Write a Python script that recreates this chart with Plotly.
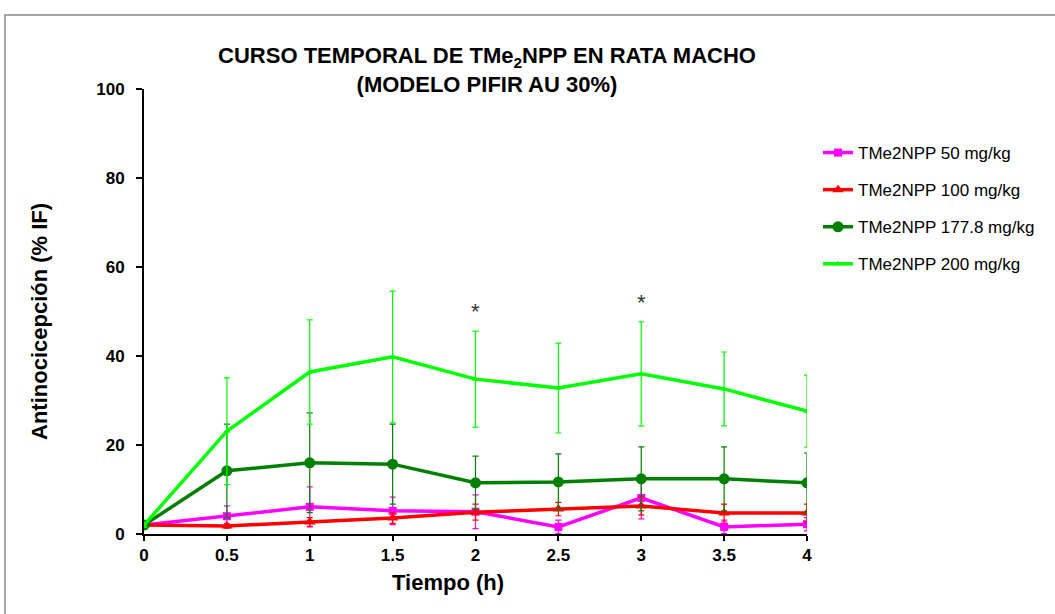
import plotly.graph_objects as go

tiempo = [0, 0.5, 1, 1.5, 2, 2.5, 3, 3.5, 4]
x_labels = ["0", "0.5", "1", "1.5", "2", "2.5", "3", "3.5", "4"]
y_ticks = [0, 20, 40, 60, 80, 100]

names = ["TMe2NPP 50 mg/kg", "TMe2NPP 100 mg/kg", "TMe2NPP 177.8 mg/kg", "TMe2NPP 200 mg/kg"]

y50 = [2.0, 4.0, 6.1, 5.2, 5.0, 1.6, 8.1, 1.6, 2.2]
e50 = [0.5, 2.3, 4.5, 3.1, 3.8, 1.5, 4.7, 1.5, 1.5]

y100 = [2.0, 1.8, 2.7, 3.6, 4.9, 5.6, 6.3, 4.7, 4.7]
e100 = [0.5, 0.5, 1.0, 1.2, 1.8, 1.5, 2.0, 2.0, 2.0]

y177 = [2.0, 14.2, 16.0, 15.7, 11.5, 11.7, 12.4, 12.4, 11.5]
e177 = [0.5, 10.5, 11.2, 9.0, 6.0, 6.3, 7.2, 7.2, 6.7]

y200 = [2.0, 23.1, 36.4, 39.8, 34.8, 32.8, 36.0, 32.6, 27.6]
e200 = [0.5, 12.0, 11.7, 14.8, 10.8, 10.1, 11.7, 8.3, 8.1]

sig_x = [2, 3]
sig_y = [50, 52]

series = [
    (names[0], y50, e50, "#ff00ff", "square", 8),
    (names[1], y100, e100, "#ff0000", "triangle-up", 10),
    (names[2], y177, e177, "#008000", "circle", 11),
    (names[3], y200, e200, "#00ff00", "triangle-up", 6),
]

fig = go.Figure()
for i, (name, y, e, col, sym, sz) in enumerate(series):
    fig.add_trace(go.Scatter(
        x=tiempo, y=y, name=name, mode="lines+markers", legendgroup="g%d" % i,
        line=dict(color=col, width=3.5),
        marker=dict(symbol=sym, size=sz, color=col),
        error_y=dict(type="data", array=e, visible=True, color=col, thickness=1.2, width=3),
    ))

for sx, sy in zip(sig_x, sig_y):
    fig.add_annotation(x=sx, y=sy, text="*", showarrow=False,
                       font=dict(family="Arial, Liberation Sans", size=22, color="#333"))

# axis titles as annotations for exact placement
fig.add_annotation(xref="paper", yref="paper", x=(448 - 144) / 663, y=(534 - 582) / 445,
                   text="<b>Tiempo (h)</b>", showarrow=False, xanchor="center", yanchor="middle",
                   font=dict(size=22, color="black"))
fig.add_annotation(xref="paper", yref="paper", x=(39 - 144) / 663, y=(534 - 322) / 445,
                   text="<b>Antinocicepción (% IF)</b>", showarrow=False, textangle=-90,
                   xanchor="center", yanchor="middle", font=dict(size=22, color="black"))

fig.update_layout(
    width=1055, height=614,
    margin=dict(l=144, r=248, t=89, b=80),
    paper_bgcolor="white", plot_bgcolor="white",
    font=dict(family="Arial, Liberation Sans", color="black"),
    title=dict(
        text="<b>CURSO TEMPORAL DE TMe<sub>2</sub>NPP EN RATA MACHO<br>(MODELO PIFIR AU 30%)</b>",
        x=487/1055, xanchor="center", y=1 - 63/614, yanchor="middle",
        font=dict(size=22, color="black"),
    ),
    legend=dict(x=(818 - 144) / 663, y=1 - 46/445, xanchor="left", yanchor="top",
                font=dict(size=17, color="black"), tracegroupgap=12,
                itemwidth=30, bgcolor="rgba(0,0,0,0)"),
    showlegend=True,
    xaxis=dict(
        range=[0, 4], tickvals=tiempo, ticktext=["<b>%s</b>" % t for t in x_labels],
        showline=True, linecolor="black", linewidth=2, ticks="outside", tickcolor="black",
        ticklen=5, tickwidth=2, showgrid=False, zeroline=False,
        tickfont=dict(size=17),
    ),
    yaxis=dict(
        range=[0, 100], tickvals=y_ticks,
        ticktext=["<b>%d</b>" % v for v in y_ticks],
        showline=True, linecolor="black", linewidth=2, ticks="outside", tickcolor="black",
        ticklen=6, tickwidth=2, showgrid=False, zeroline=False, ticklabelstandoff=8,
        tickfont=dict(size=17),
    ),
)

fig.add_shape(type="rect", xref="paper", yref="paper",
              x0=(5 - 144) / 663, x1=(1070 - 144) / 663,
              y0=(534 - 630) / 445, y1=(534 - 15) / 445,
              line=dict(color="#888", width=1.5), fillcolor="rgba(0,0,0,0)", layer="below")

fig.write_html("out.html")
